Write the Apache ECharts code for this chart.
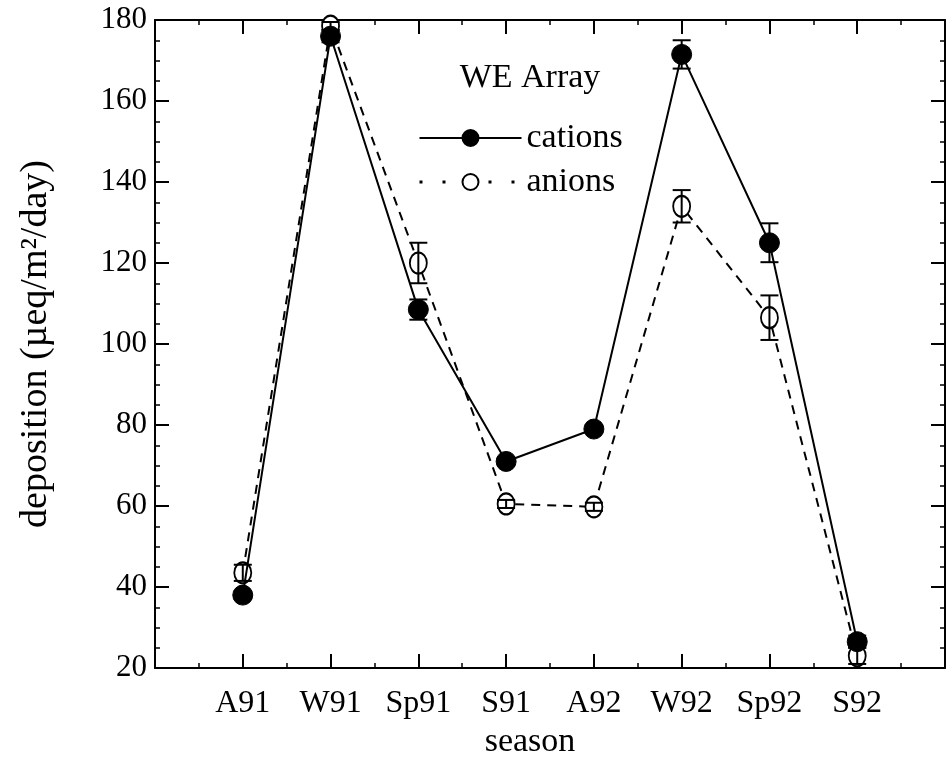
<!DOCTYPE html>
<html>
<head>
<meta charset="utf-8">
<script src="https://cdn.jsdelivr.net/npm/echarts@6/dist/echarts.min.js"></script>
<style>html,body{margin:0;padding:0;background:#fff;}#c{width:948px;height:769px;}</style>
</head>
<body>
<div id="c"></div>
<script>
const categories = ['A91', 'W91', 'Sp91', 'S91', 'A92', 'W92', 'Sp92', 'S92'];
const cations = [38, 176, 108.5, 71, 79, 171.5, 125, 26.5];
const cationErr = [1, 1.5, 2.5, 1, 1, 3.5, 4.8, 1.5];
const anions = [43.5, 178.5, 120, 60.5, 59.8, 134, 106.5, 23];
const anionErr = [2, 1, 5, 1, 1, 4, 5.5, 2];
const yMin = 20, yMax = 180, yStep = 20;

const FONT = 'Liberation Serif';
const chart = echarts.init(document.getElementById('c'));

const pts = (vals) => vals.map((v, i) => [i + 1, v]);
const errs = (vals, e) => vals.map((v, i) => [i + 1, v - e[i], v + e[i]]);

function errRender(params, api) {
  const x = api.value(0);
  const lo = api.coord([x, api.value(1)]);
  const hi = api.coord([x, api.value(2)]);
  const w = 9;
  const st = { stroke: '#000', lineWidth: 2 };
  return {
    type: 'group',
    children: [
      { type: 'line', shape: { x1: lo[0], y1: lo[1], x2: hi[0], y2: hi[1] }, style: st },
      { type: 'line', shape: { x1: lo[0] - w, y1: lo[1], x2: lo[0] + w, y2: lo[1] }, style: st },
      { type: 'line', shape: { x1: hi[0] - w, y1: hi[1], x2: hi[0] + w, y2: hi[1] }, style: st }
    ]
  };
}

const xBase = {
  type: 'value', min: 0, max: categories.length + 1, interval: 1,
  splitLine: { show: false },
  axisLine: { show: true, onZero: false, lineStyle: { color: '#000', width: 2 } },
  axisTick: { show: true, inside: true, length: 14, lineStyle: { color: '#000', width: 2 } },
  minorTick: { show: true, splitNumber: 2, length: 5, lineStyle: { color: '#000', width: 1.5 } }
};
const yBase = {
  type: 'value', min: yMin, max: yMax, interval: yStep,
  splitLine: { show: false },
  axisLine: { show: true, onZero: false, lineStyle: { color: '#000', width: 2 } },
  axisTick: { show: true, inside: true, length: 14, lineStyle: { color: '#000', width: 2 } },
  minorTick: { show: true, splitNumber: 4, length: 5, lineStyle: { color: '#000', width: 1.5 } }
};

chart.setOption({
  animation: false,
  backgroundColor: '#fff',
  textStyle: { fontFamily: FONT, color: '#000' },
  grid: { left: 155, right: 2, top: 20, bottom: 101 },
  title: {
    text: 'WE Array', left: 525, top: 56, textAlign: 'center',
    textStyle: { fontFamily: FONT, fontSize: 34, fontWeight: 'normal', color: '#000', lineHeight: 34 }
  },
  legend: {
    orient: 'vertical', left: 418, top: 121, itemGap: 10, padding: 0,
    itemWidth: 102, itemHeight: 20,
    textStyle: { fontFamily: FONT, fontSize: 34, color: '#000', lineHeight: 34 },
    data: [
      { name: 'cations' },
      { name: 'anions', lineStyle: { type: [3, 20], width: 3, color: '#000' } }
    ]
  },
  xAxis: [
    Object.assign({}, xBase, {
      position: 'bottom',
      name: 'season', nameLocation: 'middle', nameGap: 34,
      nameTextStyle: { fontFamily: FONT, fontSize: 34, color: '#000', padding: [0, 40, 0, 0] },
      axisLabel: {
        margin: 20, fontFamily: FONT, fontSize: 32, color: '#000',
        formatter: (v) => categories[v - 1] || ''
      }
    }),
    Object.assign({}, xBase, { position: 'top', axisLabel: { show: false } })
  ],
  yAxis: [
    Object.assign({}, yBase, {
      position: 'left',
      name: 'deposition (µeq/m²/day)', nameLocation: 'middle', nameGap: 100, nameRotate: 90,
      nameTextStyle: { fontFamily: FONT, fontSize: 38, color: '#000' },
      axisLabel: { margin: 8, fontFamily: FONT, fontSize: 31, color: '#000' }
    }),
    Object.assign({}, yBase, { position: 'right', axisLabel: { show: false } })
  ],
  series: [
    {
      name: 'cations', type: 'line', data: pts(cations), z: 3,
      symbol: 'circle', symbolSize: 20,
      lineStyle: { color: '#000', width: 2 },
      itemStyle: { color: '#000', borderColor: '#000', borderWidth: 1 }
    },
    {
      name: 'anions', type: 'line', data: pts(anions), z: 2,
      symbol: 'circle', symbolSize: [17, 21],
      lineStyle: { color: '#000', width: 2, type: [9, 7] },
      itemStyle: { color: '#fff', borderColor: '#000', borderWidth: 2 }
    },
    {
      name: 'cationErr', type: 'custom', data: errs(cations, cationErr), z: 4,
      renderItem: errRender, encode: { x: 0, y: [1, 2] }
    },
    {
      name: 'anionErr', type: 'custom', data: errs(anions, anionErr), z: 4,
      renderItem: errRender, encode: { x: 0, y: [1, 2] }
    }
  ]
});
</script>
</body>
</html>
